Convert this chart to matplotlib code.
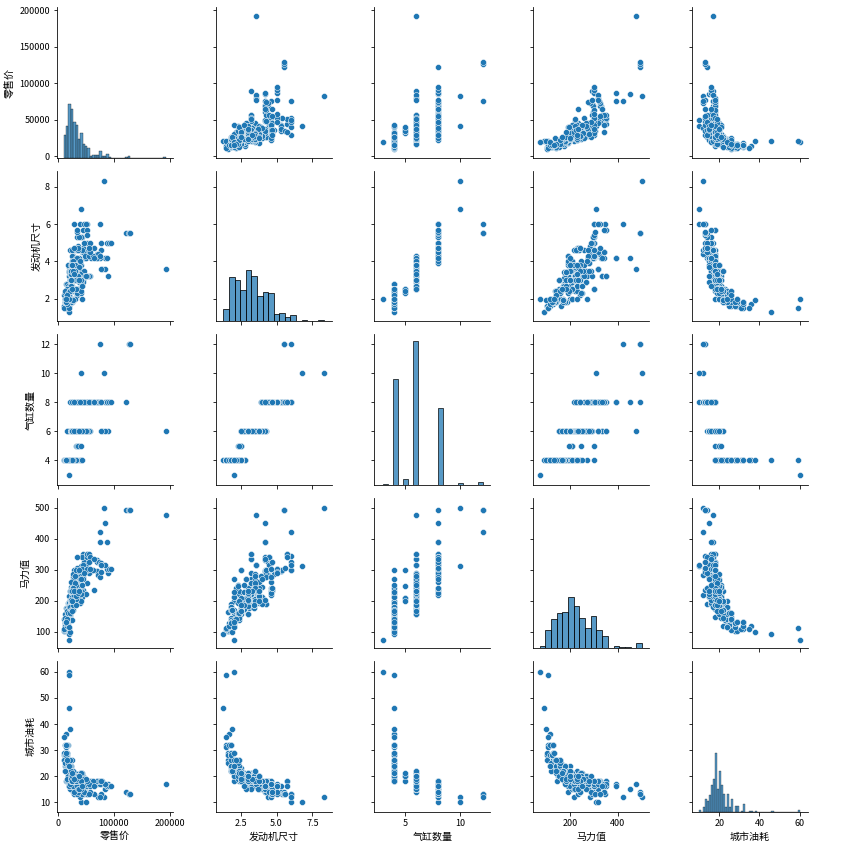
import matplotlib
matplotlib.use("Agg")
import matplotlib.pyplot as plt
from matplotlib.ticker import MaxNLocator
import pandas as pd
import seaborn as sns

plt.rcParams['font.family'] = ['Noto Sans CJK SC', 'DejaVu Sans']
plt.rcParams['axes.unicode_minus'] = False
plt.rcParams['font.size'] = 10
plt.rcParams['xtick.labelsize'] = 9
plt.rcParams['ytick.labelsize'] = 9

# one value per car, same order in every list (grouped by make)
price = [
    36945, 23820, 26990, 33195, 43755, 46100, 89765,                       # Acura
    25940, 31840, 35940, 42490, 49090, 69190, 84600, 48040, 40590,         # Audi
    28495, 30795, 37995, 44995, 39995, 54995, 69195, 73195, 48195, 56595, 37000, 52195, 40995,  # BMW
    22180, 24895, 40720, 37895, 26545,                                     # Buick
    45445, 52795, 76200, 50595, 30835, 46995,                              # Cadillac
    11690, 12585, 14610, 17500, 21900, 27395, 18995, 23845, 44535, 51535,
    42735, 34495, 27020, 26395, 14280, 40340, 41995, 37895,                # Chevrolet
    17985, 25955, 19090, 25215, 27890, 24130, 34495, 31230, 33520,         # Chrysler
    13670, 21795, 20220, 22035, 21795, 32235, 20215, 81795,                # Dodge
    13270, 19135, 22290, 24345, 18345, 29380, 37530, 29670, 34560, 41475,
    26930, 22010, 22515, 14385,                                            # Ford
    31890, 35725, 46265, 29322, 25640, 16530,                              # GMC
    13270, 14170, 17750, 19490, 20140, 19110, 19860, 26960, 33260, 19860,
    18690, 27560, 24950,                                                   # Honda
    49995,                                                                 # Hummer
    10539, 13839, 19339, 24589, 18739, 21589,                              # Hyundai
    28495, 42845, 52545, 45705,                                            # Infiniti
    31849, 20449,                                                          # Isuzu
    29995, 49995, 59995, 74995, 69995, 86995, 68995,                       # Jaguar
    34495, 20130, 25520, 18345,                                            # Jeep
    10280, 12360, 16040, 26000, 20615, 19635,                              # Kia
    72250, 39250, 25995,                                                   # Land Rover
    32350, 41010, 48450, 55750, 63200, 32415, 39195, 45700, 64800,         # Lexus
    32495, 40095, 41815, 52775, 42915,                                     # Lincoln
    16999, 19999,                                                          # MINI
    15500, 19270, 22388, 25130, 28750, 14840,                              # Mazda
    26060, 35920, 52120, 52800, 48170, 57270, 74320, 86970, 90520, 121770,
    126670, 94820, 128420, 40320, 56170, 76870, 46470,                     # Mercedes-Benz
    24695, 21595, 29995, 34495, 33995,                                     # Mercury
    14622, 29562, 19312, 26992, 29282, 33112, 18892, 30492,                # Mitsubishi
    12740, 17640, 19240, 23290, 27490, 26910, 24780, 27339, 33840, 28739, 20939,  # Nissan
    18825, 28790,                                                          # Oldsmobile
    15495, 20370, 24295, 35995, 33500, 17045, 21595, 23845,                # Pontiac
    79165, 84165, 76765, 192465, 43365, 52365, 56665,                      # Porsche
    30860, 40845, 43175,                                                   # Saab
    10995, 21410, 20585,                                                   # Saturn
    12965, 14165,                                                          # Scion
    19945, 25045, 31545, 20445, 29345, 21445, 24520,                       # Subaru
    12884, 12269, 17262, 23699, 17163,                                     # Suzuki
    14085, 15295, 10760, 20510, 19560, 25920, 22355, 30920, 22570, 25130,
    27930, 20290, 27710, 54765, 35695, 23495, 16695, 12800, 28800,         # Toyota
    18715, 19825, 21055, 21055, 23955, 39235, 65000, 75000, 35515,         # Volkswagen
    25135, 31745, 34845, 37560, 37730, 45210, 26135, 41250, 35145, 40565,  # Volvo
    32245, 23495, 26395, 28345, 29865, 31665, 37595, 50670, 31145, 29795,
    27450, 23895, 32455, 40840, 42490, 35495, 32845, 23560, 25700, 25000,
    28800, 36895,                                                          # more V6
    15850, 15030, 15389, 17200, 14740, 22260, 19005, 25645, 16385, 15040,  # more 4-cyl
]

engine = [
    3.5, 2.0, 2.4, 3.2, 3.5, 3.5, 3.2,
    1.8, 3.0, 3.0, 3.0, 4.2, 4.2, 4.2, 4.2, 3.2,
    2.5, 2.5, 3.0, 3.0, 3.0, 4.4, 4.4, 4.4, 3.2, 3.2, 3.0, 4.4, 3.0,
    3.1, 3.8, 3.8, 4.2, 3.4,
    4.6, 6.0, 4.6, 4.6, 3.2, 4.6,
    1.6, 1.6, 2.2, 2.2, 3.4, 3.8, 2.2, 3.5, 5.7, 5.7,
    5.3, 5.3, 4.2, 4.3, 2.8, 6.0, 5.3, 5.3,
    2.4, 2.4, 2.4, 2.7, 3.5, 2.7, 3.2, 3.5, 3.8,
    2.0, 2.4, 2.4, 2.7, 2.4, 4.7, 3.7, 8.3,
    2.0, 2.0, 3.0, 4.6, 3.8, 4.6, 3.9, 4.0, 4.6, 6.8,
    3.9, 4.6, 3.0, 2.3,
    4.2, 4.8, 6.0, 6.0, 4.3, 2.8,
    1.7, 1.7, 1.7, 2.0, 1.3, 2.0, 2.4, 3.0, 2.2, 2.4,
    2.4, 3.5, 3.5,
    6.0,
    1.6, 2.0, 2.7, 3.5, 2.7, 2.7,
    3.5, 4.5, 4.5, 4.5,
    4.2, 3.2,
    2.5, 4.2, 4.2, 4.2, 4.2, 4.2, 4.2,
    4.7, 2.4, 4.0, 2.4,
    1.6, 1.8, 2.4, 3.5, 3.5, 3.5,
    4.4, 4.6, 2.5,
    3.3, 3.0, 4.3, 4.3, 4.3, 3.0, 3.3, 4.7, 4.7,
    3.0, 3.9, 4.6, 5.4, 4.6,
    1.6, 1.6,
    2.0, 2.3, 1.8, 3.0, 3.0, 2.3,
    1.8, 3.2, 3.2, 5.0, 3.2, 5.0, 4.3, 5.0, 5.0, 5.5,
    5.5, 5.0, 5.5, 2.3, 3.2, 5.0, 5.0,
    4.6, 3.0, 4.0, 4.6, 4.2,
    2.0, 2.0, 2.4, 3.0, 3.5, 3.8, 2.4, 3.8,
    1.8, 2.5, 2.5, 3.5, 3.5, 3.5, 3.5, 3.5, 5.6, 3.5, 3.3,
    2.2, 3.4,
    2.2, 3.4, 3.8, 4.6, 5.7, 1.8, 3.4, 3.4,
    3.6, 3.6, 3.6, 3.6, 2.7, 3.2, 4.5,
    2.0, 2.3, 2.0,
    2.2, 3.0, 2.2,
    1.5, 1.5,
    2.5, 2.0, 2.5, 2.5, 3.0, 2.5, 2.5,
    2.3, 2.0, 2.5, 2.7, 2.5,
    1.8, 1.8, 1.5, 1.5, 2.4, 3.0, 2.4, 3.0, 1.8, 1.8,
    3.3, 2.4, 4.0, 4.7, 4.7, 3.3, 1.8, 2.4, 4.7,
    2.0, 1.8, 1.8, 1.9, 1.8, 4.0, 4.2, 6.0, 3.2,
    1.9, 2.5, 2.3, 2.5, 2.9, 2.9, 1.9, 2.9, 2.5, 2.4,
    3.8, 3.5, 3.4, 3.8, 3.8, 3.5, 3.7, 3.2, 3.5, 3.5,
    3.5, 3.0, 3.0, 3.0, 2.7, 3.0, 2.5, 3.0, 3.8, 3.8,
    3.3, 3.0,
    1.7, 1.8, 2.0, 2.3, 1.8, 2.4, 2.0, 2.5, 2.2, 2.0,
]

cylinders = [
    6, 4, 4, 6, 6, 6, 6,
    4, 6, 6, 6, 8, 8, 8, 8, 6,
    6, 6, 6, 6, 6, 8, 8, 8, 6, 6, 6, 8, 6,
    6, 6, 6, 6, 6,
    8, 8, 8, 8, 6, 8,
    4, 4, 4, 4, 6, 6, 4, 6, 8, 8,
    8, 8, 6, 6, 4, 8, 8, 8,
    4, 4, 4, 6, 6, 6, 6, 6, 6,
    4, 4, 4, 6, 4, 8, 6, 10,
    4, 4, 6, 8, 6, 8, 8, 6, 8, 10,
    6, 8, 6, 4,
    6, 8, 8, 8, 6, 4,
    4, 4, 4, 4, 4, 3, 4, 6, 4, 4,
    4, 6, 6,
    8,
    4, 4, 6, 6, 6, 6,
    6, 8, 8, 8,
    6, 6,
    6, 8, 8, 8, 8, 8, 8,
    8, 4, 6, 4,
    4, 4, 4, 6, 6, 6,
    8, 8, 6,
    6, 6, 8, 8, 8, 6, 6, 8, 8,
    6, 8, 8, 8, 8,
    4, 4,
    4, 4, 4, 6, 6, 4,
    4, 6, 6, 8, 6, 8, 8, 8, 8, 8,
    12, 8, 12, 4, 6, 8, 8,
    8, 6, 6, 8, 6,
    4, 4, 4, 6, 6, 6, 4, 6,
    4, 4, 4, 6, 6, 6, 6, 6, 8, 6, 6,
    4, 6,
    4, 6, 6, 8, 8, 4, 6, 6,
    6, 6, 6, 6, 6, 6, 8,
    4, 4, 4,
    4, 6, 4,
    4, 4,
    4, 4, 4, 4, 6, 4, 4,
    4, 4, 6, 6, 6,
    4, 4, 4, 4, 4, 6, 4, 6, 4, 4,
    6, 4, 6, 8, 8, 6, 4, 4, 8,
    4, 4, 4, 4, 4, 8, 8, 12, 6,
    4, 5, 5, 5, 6, 6, 4, 6, 5, 5,
    6, 6, 6, 6, 6, 6, 6, 6, 6, 6,
    6, 6, 6, 6, 6, 6, 6, 6, 6, 6,
    6, 6,
    4, 4, 4, 4, 4, 4, 4, 4, 4, 4,
]

horsepower = [
    265, 200, 200, 270, 225, 225, 290,
    170, 220, 220, 220, 300, 330, 450, 340, 250,
    184, 184, 225, 225, 225, 325, 325, 325, 333, 333, 225, 325, 225,
    175, 205, 240, 275, 185,
    275, 345, 320, 320, 255, 320,
    103, 103, 140, 140, 180, 240, 145, 200, 350, 350,
    295, 295, 275, 190, 175, 300, 300, 295,
    150, 220, 150, 200, 250, 200, 215, 250, 215,
    132, 230, 150, 200, 150, 230, 215, 500,
    130, 170, 155, 224, 193, 260, 280, 210, 232, 310,
    193, 231, 201, 143,
    275, 285, 325, 300, 190, 175,
    115, 117, 127, 160, 93, 73, 160, 240, 240, 160,
    160, 240, 240,
    316,
    103, 138, 170, 194, 172, 173,
    260, 340, 340, 315,
    275, 193,
    192, 294, 294, 390, 294, 390, 294,
    235, 150, 190, 147,
    104, 124, 138, 195, 195, 192,
    282, 217, 174,
    225, 220, 300, 290, 300, 215, 230, 235, 235,
    232, 280, 239, 300, 302,
    115, 163,
    148, 160, 142, 200, 200, 143,
    189, 215, 349, 302, 221, 302, 275, 302, 302, 493,
    493, 302, 493, 192, 349, 292, 288,
    224, 155, 210, 302, 201,
    120, 271, 160, 210, 205, 215, 160, 215,
    126, 165, 175, 245, 265, 287, 240, 240, 305, 245, 180,
    140, 185,
    140, 175, 260, 275, 340, 130, 185, 185,
    315, 315, 315, 477, 228, 258, 340,
    210, 250, 210,
    140, 182, 143,
    108, 108,
    165, 227, 300, 165, 212, 165, 165,
    155, 119, 155, 185, 165,
    130, 130, 108, 110, 157, 210, 157, 210, 180, 138,
    230, 161, 245, 325, 240, 230, 130, 142, 240,
    115, 180, 180, 100, 170, 270, 335, 420, 220,
    170, 208, 247, 300, 208, 268, 170, 268, 208, 197,
    205, 200, 185, 215, 240, 250, 232, 221, 255, 280,
    240, 200, 215, 220, 250, 225, 184, 201, 230, 200,
    230, 232,
    117, 130, 138, 160, 126, 160, 115, 165, 140, 132,
]

mpg_city = [
    17, 24, 22, 20, 18, 18, 17,
    22, 20, 20, 20, 17, 17, 15, 14, 21,
    20, 19, 20, 20, 20, 18, 18, 18, 16, 16, 16, 16, 21,
    20, 20, 18, 15, 19,
    18, 13, 17, 18, 18, 16,
    28, 28, 26, 24, 21, 18, 24, 22, 18, 18,
    14, 14, 16, 14, 18, 13, 16, 14,
    22, 21, 22, 21, 18, 21, 17, 17, 17,
    29, 22, 21, 21, 20, 15, 16, 12,
    26, 22, 20, 17, 20, 17, 17, 15, 15, 10,
    17, 15, 18, 24,
    15, 16, 13, 13, 16, 18,
    32, 36, 32, 26, 46, 60, 26, 21, 20, 21,
    21, 17, 18,
    10,
    29, 26, 19, 17, 19, 20,
    18, 17, 17, 15,
    15, 17,
    18, 18, 18, 17, 18, 16, 18,
    15, 20, 16, 18,
    26, 24, 23, 17, 16, 16,
    12, 12, 18,
    20, 18, 18, 18, 18, 18, 18, 15, 13,
    20, 17, 17, 13, 13,
    28, 25,
    26, 24, 23, 18, 18, 24,
    22, 19, 16, 17, 19, 16, 18, 16, 16, 14,
    13, 16, 13, 21, 17, 13, 14,
    17, 20, 16, 17, 16,
    25, 18, 23, 21, 18, 15, 21, 17,
    28, 23, 21, 21, 20, 20, 19, 16, 13, 20, 17,
    24, 19,
    24, 20, 18, 17, 16, 29, 19, 19,
    18, 17, 18, 17, 20, 18, 14,
    20, 19, 21,
    26, 20, 21,
    32, 31,
    22, 20, 18, 21, 19, 21, 21,
    25, 22, 20, 18, 19,
    32, 32, 35, 59, 24, 21, 24, 21, 24, 26,
    18, 22, 18, 13, 14, 19, 29, 22, 14,
    24, 24, 24, 38, 22, 18, 16, 12, 15,
    22, 20, 20, 18, 20, 19, 22, 15, 20, 21,
    20, 22, 18, 18, 18, 19, 15, 19, 19, 18,
    18, 20, 18, 18, 16, 20, 19, 19, 18, 20,
    19, 20,
    32, 32, 26, 25, 28, 26, 24, 21, 26, 29,
]

cols = ['零售价', '发动机尺寸', '气缸数量', '马力值', '城市油耗']

# layout settings (not data): histogram bins per variable and axis ranges
diag_bins = {'零售价': 43, '发动机尺寸': 18, '气缸数量': 20, '马力值': 18, '城市油耗': 50}
axis_x_limits = [(-1500, 205500), (0.76, 8.85), (2.25, 12.7), (46, 530), (6.3, 64.1)]
axis_y_limits = [(-2500, 204000), (0.77, 8.87), (2.3, 12.7), (46, 532), (6.3, 64.2)]

df = pd.DataFrame({
    cols[0]: price,
    cols[1]: engine,
    cols[2]: cylinders,
    cols[3]: horsepower,
    cols[4]: mpg_city,
})


def diag_hist(x, color=None, label=None, **kws):
    sns.histplot(x=x, bins=diag_bins[x.name], color=color, ax=plt.gca())


g = sns.PairGrid(df, height=2.5)
g.map_diag(diag_hist)
g.map_offdiag(sns.scatterplot)

for i in range(len(cols)):
    g.axes[-1, i].set_xlim(*axis_x_limits[i])
    g.axes[-1, i].xaxis.set_major_locator(MaxNLocator(nbins=3, steps=[1, 2, 2.5, 5, 10]))
    g.axes[i, 0].set_ylim(*axis_y_limits[i])
    g.axes[i, 0].yaxis.set_major_locator(MaxNLocator(nbins=7, steps=[1, 2, 2.5, 5, 10]))

fig = g.figure
fig.set_size_inches(845 / 72, 844 / 72)
fig.subplots_adjust(left=0.0675, right=0.956, bottom=0.0383, top=0.9913,
                    wspace=0.368, hspace=0.085)
fig.savefig('out.png', dpi=72)
